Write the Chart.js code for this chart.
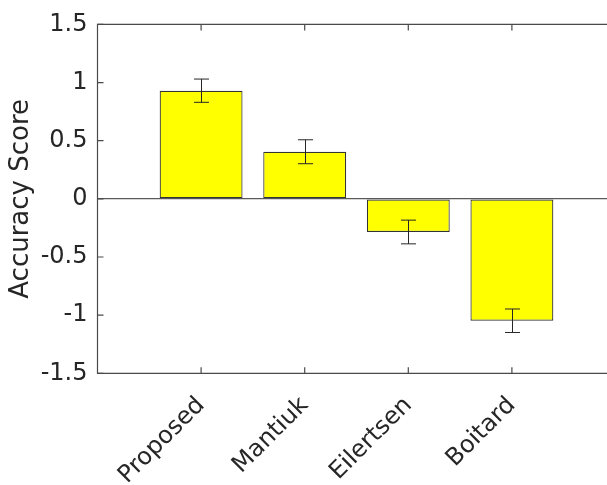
<!DOCTYPE html>
<html>
<head>
<meta charset="utf-8">
<script src="https://cdn.jsdelivr.net/npm/chart.js@4"></script>
<style>
  html, body { margin: 0; padding: 0; overflow: hidden; background: #fff; }
  canvas { display: block; }
</style>
</head>
<body>
<canvas id="c" width="607" height="485" style="width:607px;height:485px"></canvas>
<script>
const categories = ['Proposed', 'Mantiuk', 'Eilertsen', 'Boitard'];
const scores = [0.93, 0.405, -0.285, -1.048];
const errors = [0.10, 0.103, 0.102, 0.101];
const yTicks = [-1.5, -1, -0.5, 0, 0.5, 1, 1.5];
const yLabel = 'Accuracy Score';
// visible x-range: the figure is cropped just before the right axis (xlim would be 0..5)
const xMin = 0;
const xMaxVisible = 4.918;

const TEXT = '#262626';
const AXIS = '#4a4a4a';
const FONT = 'DejaVu Sans';

const boxPlugin = {
  id: 'matlabBox',
  afterDatasetsDraw(chart) {
    const ctx = chart.ctx;
    const a = chart.chartArea;
    const xs = chart.scales.x, ys = chart.scales.y;
    ctx.save();
    ctx.strokeStyle = '#262626';
    ctx.lineWidth = 1;
    scores.forEach((v, i) => {
      const x = Math.round(xs.getPixelForValue(i + 1)) + 0.5;
      const yt = ys.getPixelForValue(v + errors[i]);
      const yb = ys.getPixelForValue(v - errors[i]);
      ctx.beginPath();
      ctx.moveTo(x, yt); ctx.lineTo(x, yb);
      ctx.moveTo(x - 7.5, yt); ctx.lineTo(x + 7.5, yt);
      ctx.moveTo(x - 7.5, yb); ctx.lineTo(x + 7.5, yb);
      ctx.stroke();
    });
    ctx.strokeStyle = AXIS;
    ctx.lineWidth = 1.2;
    ctx.beginPath();
    ctx.moveTo(chart.width, a.top); ctx.lineTo(a.left, a.top);
    ctx.lineTo(a.left, a.bottom); ctx.lineTo(chart.width, a.bottom);
    ctx.stroke();
    const tl = 6;
    ctx.beginPath();
    yTicks.forEach(t => {
      const y = ys.getPixelForValue(t);
      ctx.moveTo(a.left, y); ctx.lineTo(a.left + tl, y);
    });
    categories.forEach((c, i) => {
      const x = xs.getPixelForValue(i + 1);
      ctx.moveTo(x, a.bottom); ctx.lineTo(x, a.bottom - tl);
      ctx.moveTo(x, a.top); ctx.lineTo(x, a.top + tl);
    });
    ctx.stroke();
    ctx.restore();
  }
};

new Chart(document.getElementById('c'), {
  type: 'bar',
  data: {
    datasets: [{
      data: scores.map((v, i) => ({ x: i + 1, y: v })),
      backgroundColor: '#ffff00',
      borderColor: '#333333',
      borderWidth: 1.2,
      borderSkipped: false,
      barPercentage: 0.8,
      categoryPercentage: 1.0
    }]
  },
  plugins: [boxPlugin],
  options: {
    responsive: false,
    devicePixelRatio: 1,
    animation: false,
    layout: { padding: { left: 0, top: 22.7, right: 0, bottom: 0 } },
    plugins: { legend: { display: false }, tooltip: { enabled: false } },
    scales: {
      x: {
        type: 'linear',
        offset: false,
        min: xMin, max: xMaxVisible,
        afterBuildTicks: s => { s.ticks = categories.map((c, i) => ({ value: i + 1 })); },
        afterFit: s => { s.height = 485 - 373.3; },
        grid: { display: false, drawTicks: false },
        border: { display: false },
        ticks: {
          callback: v => categories[v - 1] || '',
          minRotation: 45, maxRotation: 45,
          autoSkip: false,
          padding: 18,
          color: TEXT,
          font: { family: FONT, size: 24 }
        }
      },
      y: {
        min: -1.5, max: 1.5,
        afterBuildTicks: s => { s.ticks = yTicks.map(v => ({ value: v })); },
        afterFit: s => { s.width = 97.5; },
        grid: {
          drawTicks: false,
          color: ctx => (ctx.tick && ctx.tick.value === 0) ? '#5a5a5a' : 'rgba(0,0,0,0)',
          lineWidth: 1.2
        },
        border: { display: false },
        ticks: {
          callback: v => String(v),
          padding: 10,
          color: TEXT,
          font: { family: FONT, size: 24 }
        },
        title: {
          display: true,
          text: yLabel,
          color: TEXT,
          font: { family: FONT, size: 26 },
          padding: { top: 6, bottom: 0 }
        }
      }
    }
  }
});
</script>
</body>
</html>
